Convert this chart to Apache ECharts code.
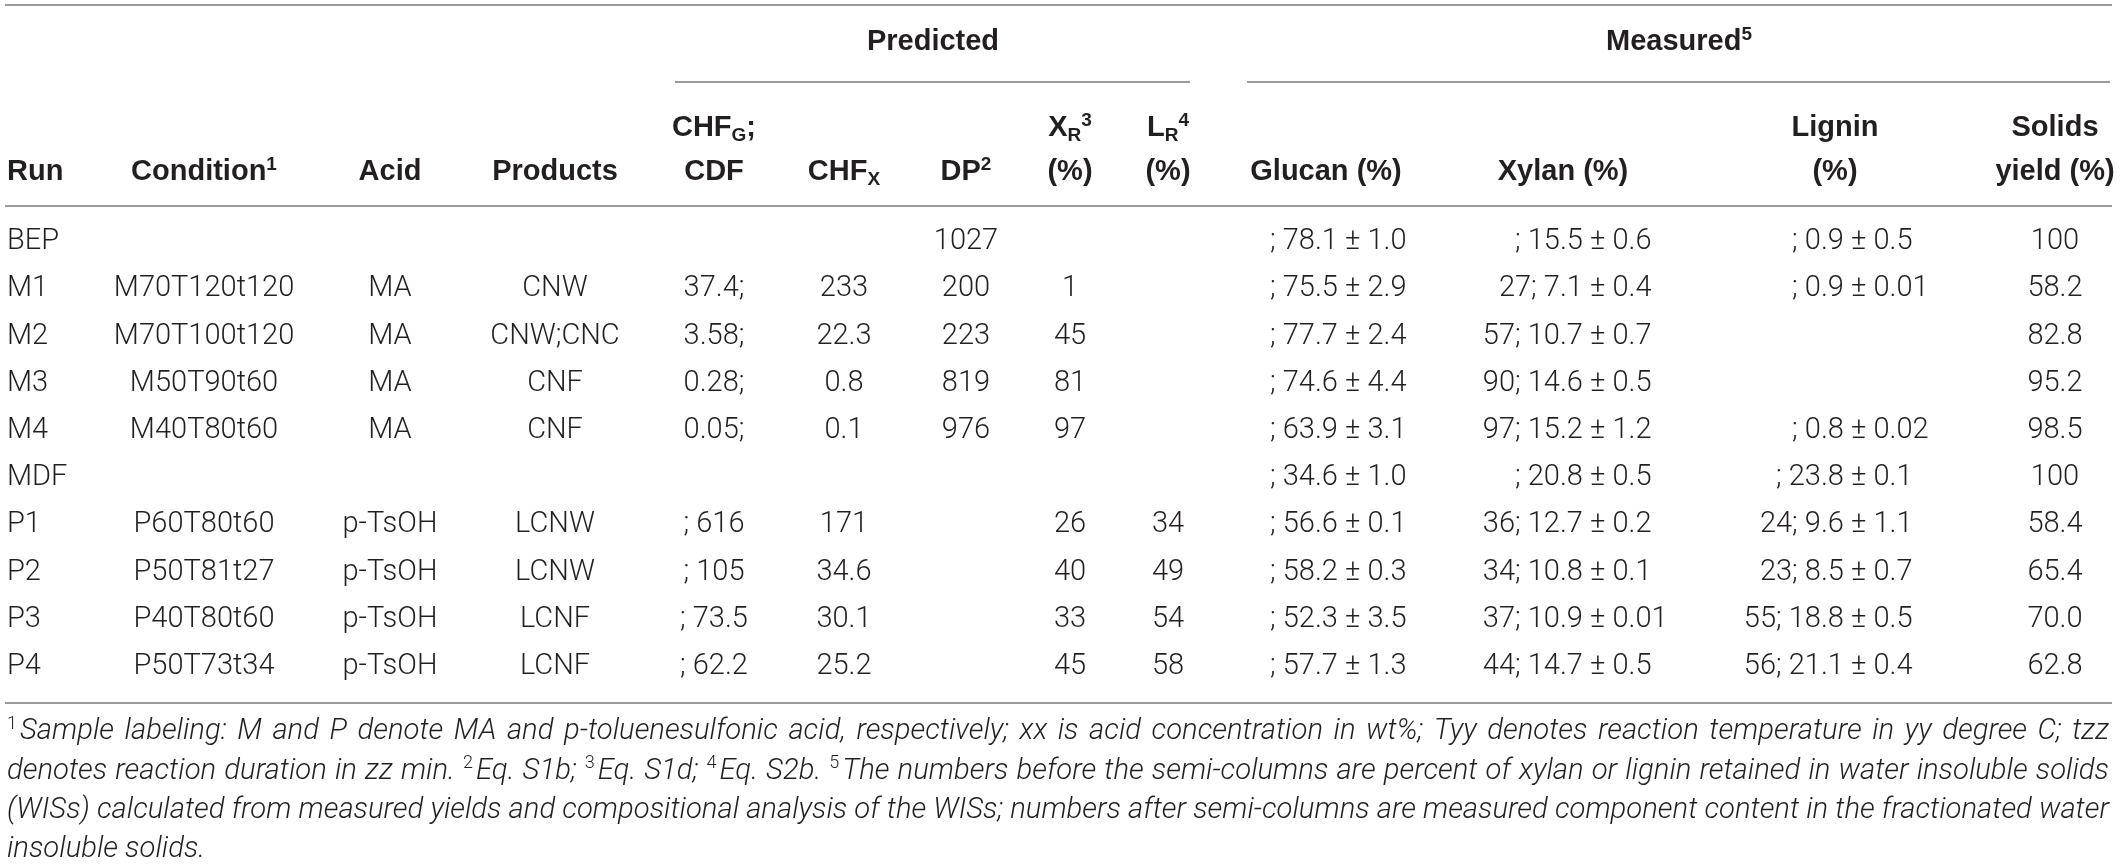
<!DOCTYPE html>
<html>
<head>
<meta charset="utf-8">
<script src="https://cdn.jsdelivr.net/npm/echarts@6/dist/echarts.min.js"></script>
<style>
  html, body { margin: 0; padding: 0; background: #fff; }
  #main { width: 2121px; height: 864px; }
</style>
</head>
<body>
<div id="main"></div>
<script>
// table content, one array per column
var runs       = ['BEP', 'M1', 'M2', 'M3', 'M4', 'MDF', 'P1', 'P2', 'P3', 'P4'];
var conditions = ['', 'M70T120t120', 'M70T100t120', 'M50T90t60', 'M40T80t60', '', 'P60T80t60', 'P50T81t27', 'P40T80t60', 'P50T73t34'];
var acids      = ['', 'MA', 'MA', 'MA', 'MA', '', 'p-TsOH', 'p-TsOH', 'p-TsOH', 'p-TsOH'];
var products   = ['', 'CNW', 'CNW;CNC', 'CNF', 'CNF', '', 'LCNW', 'LCNW', 'LCNF', 'LCNF'];
var chfG       = ['', '37.4;', '3.58;', '0.28;', '0.05;', '', '; 616', '; 105', '; 73.5', '; 62.2'];
var chfX       = ['', '233', '22.3', '0.8', '0.1', '', '171', '34.6', '30.1', '25.2'];
var dp         = ['1027', '200', '223', '819', '976', '', '', '', '', ''];
var xR         = ['', '1', '45', '81', '97', '', '26', '40', '33', '45'];
var lR         = ['', '', '', '', '', '', '34', '49', '54', '58'];
var glucan     = ['; 78.1 ± 1.0', '; 75.5 ± 2.9', '; 77.7 ± 2.4', '; 74.6 ± 4.4', '; 63.9 ± 3.1', '; 34.6 ± 1.0', '; 56.6 ± 0.1', '; 58.2 ± 0.3', '; 52.3 ± 3.5', '; 57.7 ± 1.3'];
var xylan      = ['; 15.5 ± 0.6', '27; 7.1 ± 0.4', '57; 10.7 ± 0.7', '90; 14.6 ± 0.5', '97; 15.2 ± 1.2', '; 20.8 ± 0.5', '36; 12.7 ± 0.2', '34; 10.8 ± 0.1', '37; 10.9 ± 0.01', '44; 14.7 ± 0.5'];
var lignin     = ['; 0.9 ± 0.5', '; 0.9 ± 0.01', '', '', '; 0.8 ± 0.02', '; 23.8 ± 0.1', '24; 9.6 ± 1.1', '23; 8.5 ± 0.7', '55; 18.8 ± 0.5', '56; 21.1 ± 0.4'];
var solids     = ['100', '58.2', '82.8', '95.2', '98.5', '100', '58.4', '65.4', '70.0', '62.8'];

// footnote lines ({s|..} = superscript)
var notes = [
  '{s|1}Sample labeling: M and P denote MA and p-toluenesulfonic acid, respectively; xx is acid concentration in wt%; Tyy denotes reaction temperature in yy degree C; tzz',
  'denotes reaction duration in zz min. {s|2}Eq. S1b; {s|3}Eq. S1d; {s|4}Eq. S2b. {s|5}The numbers before the semi-columns are percent of xylan or lignin retained in water insoluble solids',
  '(WISs) calculated from measured yields and compositional analysis of the WISs; numbers after semi-columns are measured component content in the fractionated water',
  'insoluble solids.'
];

// layout
var W = 2121, H = 864;
var BODY = 'Roboto', HEAD = '"Liberation Sans", Arial, sans-serif';
var INK = '#231f20', RULE = '#9b9b9b', FS = 29;
var colX = { run: 7, condition: 204, acid: 390, products: 555, cdf: 714, chfX: 844, dp: 966,
             xR: 1070, lR: 1168, glucan: 1326, xylan: 1563, lignin: 1835, solids: 2055 };
var pmX = { glucan: 1345, xylan: 1590, lignin: 1851 };   // where the "±" starts
var rowY0 = 242, rowStep = 47.2;
var noteY0 = 732, noteStep = 39.3, noteL = 7, noteR = 2109;

var cellPos = [], cellMeta = [];
function put(x, y, text, align, bold) {
  if (!text) return;
  cellPos.push([x, y]);
  cellMeta.push({ text: text, align: align, bold: !!bold });
}
function pmCell(key, s, y) {
  if (!s) return;
  var k = s.indexOf('±');
  put(pmX[key], y, s.slice(0, k), 'right');
  put(pmX[key], y, s.slice(k), 'left');
}

// header
put(933, 42, 'Predicted', 'center', true);
put(1679, 42, 'Measured{sup|5}', 'center', true);
put(colX.cdf, 128, 'CHF{sub|G};', 'center', true);
put(colX.xR, 128, 'X{sub|R}{sup|3}', 'center', true);
put(colX.lR, 128, 'L{sub|R}{sup|4}', 'center', true);
put(colX.lignin, 128, 'Lignin', 'center', true);
put(colX.solids, 128, 'Solids', 'center', true);
put(colX.run, 172, 'Run', 'left', true);
put(colX.condition, 172, 'Condition{sup|1}', 'center', true);
put(colX.acid, 172, 'Acid', 'center', true);
put(colX.products, 172, 'Products', 'center', true);
put(colX.cdf, 172, 'CDF', 'center', true);
put(colX.chfX, 172, 'CHF{sub|X}', 'center', true);
put(colX.dp, 172, 'DP{sup|2}', 'center', true);
put(colX.xR, 172, '(%)', 'center', true);
put(colX.lR, 172, '(%)', 'center', true);
put(colX.glucan, 172, 'Glucan (%)', 'center', true);
put(colX.xylan, 172, 'Xylan (%)', 'center', true);
put(colX.lignin, 172, '(%)', 'center', true);
put(colX.solids, 172, 'yield (%)', 'center', true);

// body
runs.forEach(function (r, i) {
  var y = rowY0 + i * rowStep;
  put(colX.run, y, r, 'left');
  put(colX.condition, y, conditions[i], 'center');
  put(colX.acid, y, acids[i], 'center');
  put(colX.products, y, products[i], 'center');
  put(colX.cdf, y, chfG[i], 'center');
  put(colX.chfX, y, chfX[i], 'center');
  put(colX.dp, y, dp[i], 'center');
  put(colX.xR, y, xR[i], 'center');
  put(colX.lR, y, lR[i], 'center');
  pmCell('glucan', glucan[i], y);
  pmCell('xylan', xylan[i], y);
  pmCell('lignin', lignin[i], y);
  put(colX.solids, y, solids[i], 'center');
});

// footnote: justified, one text element per word
var ctx = document.createElement('canvas').getContext('2d');
var noteFS = 28;
function noteFont(fs) { return 'italic 300 ' + fs + 'px ' + BODY; }
var supFont = '300 18px ' + BODY;
function wordWidth(w, fs) {
  var total = 0, re = /\{s\|([^}]*)\}/g, m, last = 0;
  while ((m = re.exec(w))) {
    ctx.font = noteFont(fs); total += ctx.measureText(w.slice(last, m.index)).width;
    ctx.font = supFont;      total += ctx.measureText(m[1]).width + 3;
    last = re.lastIndex;
  }
  ctx.font = noteFont(fs); total += ctx.measureText(w.slice(last)).width;
  return total;
}
// size the footnote so its widest full line fits the measure with plain spaces
(function () {
  var widest = 0;
  notes.slice(0, 3).forEach(function (line) {
    ctx.font = noteFont(28);
    var w = wordWidth(line.replace(/ /g, '\u00a0'), 28);
    widest = Math.max(widest, w);
  });
  noteFS = Math.min(30, Math.max(26, 28 * (noteR - noteL) / widest));
})();

var graphics = [];
notes.forEach(function (line, li) {
  var words = line.split(' ');
  var widths = words.map(function (w) { return wordWidth(w, noteFS); });
  var sum = widths.reduce(function (a, b) { return a + b; }, 0);
  ctx.font = noteFont(noteFS);
  var gap = ctx.measureText(' ').width;
  if (li < notes.length - 1 && words.length > 1) gap = (noteR - noteL - sum) / (words.length - 1);
  var x = noteL;
  words.forEach(function (w, wi) {
    graphics.push({
      type: 'text', x: x, y: noteY0 + li * noteStep, silent: true,
      style: {
        text: w, fill: INK, fontFamily: BODY, fontSize: noteFS, fontStyle: 'italic', fontWeight: 300,
        align: 'left', verticalAlign: 'middle', lineHeight: 34,
        rich: { s: { fontSize: 18, lineHeight: 14, verticalAlign: 'top', fontFamily: BODY, fontWeight: 300, padding: [0, 3, 0, 0] } }
      }
    });
    x += widths[wi] + gap;
  });
});

// rules
function rule(x1, x2, y) {
  graphics.push({ type: 'line', silent: true, shape: { x1: x1, y1: y, x2: x2, y2: y },
                  style: { stroke: RULE, lineWidth: 2 } });
}
rule(5, 2112, 5);
rule(675, 1190, 82);
rule(1247, 2110, 82);
rule(5, 2112, 206);
rule(5, 2112, 703);

var chart = echarts.init(document.getElementById('main'));
chart.setOption({
  animation: false,
  grid: { left: 0, right: 0, top: 0, bottom: 0 },
  xAxis: { type: 'value', min: 0, max: W, show: false },
  yAxis: { type: 'value', min: 0, max: H, inverse: true, show: false },
  graphic: graphics,
  series: [{
    type: 'custom',
    silent: true,
    clip: false,
    data: cellPos,
    renderItem: function (params, api) {
      var p = api.coord([api.value(0), api.value(1)]);
      var m = cellMeta[params.dataIndex];
      var fam = m.bold ? HEAD : BODY;
      var wt = m.bold ? 'bold' : 300;
      return {
        type: 'text', x: p[0], y: p[1],
        style: {
          text: m.text, fill: INK, fontFamily: fam, fontSize: FS, fontWeight: wt,
          align: m.align, verticalAlign: 'middle', lineHeight: 34,
          rich: {
            sup: { fontSize: 19, lineHeight: 14, verticalAlign: 'top', fontFamily: fam, fontWeight: wt },
            sub: { fontSize: 19, lineHeight: 18, verticalAlign: 'bottom', fontFamily: fam, fontWeight: wt }
          }
        }
      };
    }
  }]
});
</script>
</body>
</html>
